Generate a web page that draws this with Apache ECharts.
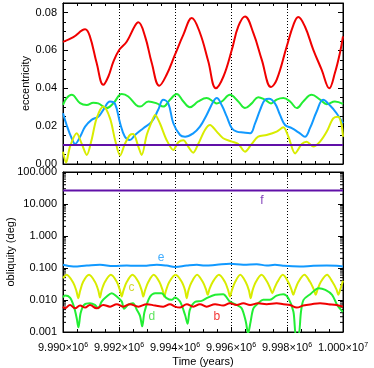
<!DOCTYPE html>
<html><head><meta charset="utf-8">
<script src="https://cdn.jsdelivr.net/npm/echarts@6/dist/echarts.min.js"></script>
<style>html,body{margin:0;padding:0;background:#fff}#c{width:374px;height:368px}</style>
</head><body><div id="c"></div>
<script>
// ---------- axis / tick data ----------
const T0 = 9990000;          // start of time axis (years)
const T1 = 10000000;         // end of time axis
const xTickMant = ['9.990','9.992','9.994','9.996','9.998','1.000'];
const xTickExp  = ['6','6','6','6','6','7'];
const eccTickLabels = ['0.00','0.02','0.04','0.06','0.08'];
const oblTickLabels = ['0.001','0.010','0.100','1.000','10.000','100.000'];
const oblMinorTicks = [0.002,0.003,0.004,0.005,0.006,0.007,0.008,0.009,
  0.02,0.03,0.04,0.05,0.06,0.07,0.08,0.09,
  0.2,0.3,0.4,0.5,0.6,0.7,0.8,0.9,
  2,3,4,5,6,7,8,9, 20,30,40,50,60,70,80,90];

// ---------- eccentricity (top panel), time offsets in years ----------
const eccRedT = [0,370,790,960,1200,1440,1620,1800,2010,2280,2570,2690,2930,3170,3440,3700,4000,4300,4600,4890,5190,5460,5730,6030,6260,6500,6800,7100,7430,7630,7990,8230,8400,8640,8940,9240,9510,9710,9890,10000];
const eccRedV = [.0645,.067,.0711,.0674,.0534,.0418,.0462,.054,.0603,.0647,.073,.0748,.0674,.0533,.0413,.0471,.0577,.0683,.0771,.0693,.0541,.040,.0462,.0603,.0726,.0779,.0691,.055,.0406,.0444,.062,.0735,.0776,.0726,.0603,.0497,.040,.048,.0586,.0674];

const eccGreenT = [0,130,310,610,850,1080,1260,1560,1800,2100,2330,2610,2750,3050,3350,3580,3820,4060,4300,4530,4830,5130,5370,5490,5670,5960,6260,6500,6740,6970,7210,7430,7630,7870,8110,8350,8580,8880,9180,9420,9710,10000];
const eccGreenV = [.0312,.0348,.0365,.0321,.0312,.0324,.032,.0295,.0321,.0369,.0356,.0312,.0303,.033,.032,.0303,.0339,.037,.033,.030,.033,.0348,.033,.032,.033,.0365,.033,.0295,.032,.0353,.034,.032,.034,.0348,.033,.0295,.033,.0365,.034,.0316,.033,.0317];

const eccBlueT = [0,130,310,430,610,790,1020,1260,1440,1680,1860,2040,2210,2390,2570,2870,3170,3400,3580,3760,3940,4180,4360,4650,4890,5130,5370,5490,5670,5850,6030,6210,6440,6680,6860,7040,7210,7360,7570,7750,7930,8170,8460,8640,8820,9060,9290,9530,9770,10000];
const eccBlueV = [.0268,.0206,.0136,.0106,.0144,.0197,.0233,.025,.0286,.033,.0317,.0215,.0144,.0127,.0153,.0189,.0224,.0286,.0339,.032,.0215,.0153,.0144,.0162,.0197,.0259,.033,.0348,.031,.025,.0189,.0171,.0166,.0162,.0215,.0286,.0339,.0345,.032,.0259,.0206,.0189,.0162,.0144,.0189,.0277,.0339,.031,.0268,.0215];

const eccYellowT = [0,110,250,490,670,850,1020,1200,1440,1680,1860,2040,2210,2390,2510,2690,2810,2990,3170,3290,3460,3700,3940,4120,4300,4470,4650,4830,5070,5250,5490,5720,6030,6260,6500,6740,6970,7270,7630,7870,8050,8290,8530,8700,8940,9180,9420,9650,9830,9950,10000];
const eccYellowV = [.0065,.0008,.0092,.0162,.0106,.0048,.0127,.0241,.0303,.0241,.0127,.0045,.0106,.0153,.0158,.0092,.0048,.0153,.0224,.0259,.0215,.0127,.0074,.0115,.0125,.0092,.006,.0106,.018,.0206,.0171,.0136,.0118,.0106,.0065,.0106,.0144,.0153,.0171,.0194,.0144,.0056,.0106,.0118,.0092,.0118,.0171,.0241,.025,.0206,.0144];

const eccPurpleT = [0,10000];
const eccPurpleV = [.0100,.0100];

// ---------- obliquity (bottom panel, deg) ----------
const oblPurpleT = [0,10000];
const oblPurpleV = [26.3,26.3];

const oblBlueT = [0,370,850,1320,1800,2280,2570,2870,3350,3700,4000,4420,4780,5070,5490,5960,6440,6920,7280,7570,7860,8460,8940,9420,9770,10000];
const oblBlueV = [.126,.111,.119,.126,.115,.119,.117,.117,.126,.119,.107,.119,.126,.119,.126,.135,.126,.132,.119,.126,.117,.111,.117,.119,.117,.111];

const oblYellowT = [0,130,370,480,546,610,720,930,1140,1260,1321,1380,1500,1710,1920,2035,2096,2160,2280,2480,2690,2810,2868,2930,3050,3240,3440,3560,3618,3680,3800,4020,4240,4360,4418,4480,4600,4790,4990,5110,5168,5230,5350,5570,5780,5900,5964,6030,6150,6330,6520,6640,6704,6770,6890,7090,7290,7410,7475,7540,7660,7850,8040,8160,8225,8290,8410,8620,8820,8960,9025,9090,9210,9430,9620,9770,9832,9900,10000];
const oblYellowV = [.048,.061,.034,.019,.0114,.019,.037,.061,.037,.02,.0119,.02,.037,.061,.037,.02,.0128,.02,.037,.061,.037,.02,.0128,.02,.037,.061,.037,.02,.0128,.02,.037,.061,.037,.02,.0114,.02,.037,.061,.037,.021,.0145,.022,.037,.061,.037,.02,.0128,.02,.037,.061,.037,.02,.0114,.02,.037,.061,.037,.022,.0163,.022,.037,.061,.037,.021,.0145,.021,.037,.061,.037,.021,.0145,.021,.037,.061,.037,.021,.0145,.021,.04];

const oblGreenT = [0,70,250,390,490,550,630,750,960,1140,1260,1380,1560,1740,1920,2100,2180,2320,2500,2640,2750,2830,2910,3110,3290,3520,3700,3880,4000,4180,4360,4450,4530,4710,4950,5130,5430,5720,5960,6200,6380,6530,6610,6700,6800,6970,7150,7390,7630,7870,8050,8230,8320,8410,8500,8590,8830,9130,9370,9610,9790,9970,10000];
const oblGreenV = [.0119,.0137,.0119,.0062,.0027,.0014,.0039,.0070,.0079,.0070,.0055,.0089,.0128,.0163,.0128,.0089,.0053,.0070,.0079,.0049,.0032,.0015,.0042,.0128,.0163,.0163,.0114,.0101,.0119,.0089,.0034,.0018,.0049,.0087,.0094,.0114,.0145,.0152,.0089,.0070,.0055,.0021,.0009,.0021,.0055,.0079,.0101,.0101,.0137,.0152,.0114,.0043,.0008,.0008,.0043,.0101,.0152,.0234,.0208,.0145,.0070,.0045,.0043];

const oblRedT = [0,70,250,430,610,790,960,1200,1440,1680,1920,2150,2390,2690,2990,3290,3580,3820,4000,4180,4420,4650,4890,5130,5430,5720,5960,6200,6440,6680,6970,7270,7630,7870,8110,8350,8580,8880,9180,9480,9770,10000];
const oblRedV = [.0062,.0055,.0070,.0055,.0067,.0058,.0070,.0055,.0070,.0062,.0074,.0062,.0074,.0062,.0074,.0067,.0062,.0074,.0062,.0058,.0074,.0062,.0074,.0062,.0074,.0067,.0079,.0070,.0079,.0070,.0079,.0074,.0079,.0074,.0070,.0058,.0067,.0074,.0079,.0074,.0070,.0062];

// curve labels in the obliquity panel
const curveNames  = ['b','c','d','e','f'];
const curveLabT   = [5490,2450,3170,3500,7100];
const curveLabV   = [0.00295,0.0239,0.00295,0.209,12.8];

// ---------- styling ----------
const FONT = 'Liberation Sans, Arial, Helvetica, sans-serif';
const COL = {red:'#f00000', green:'#22ee33', blue:'#1199ff', yellow:'#d8ec00', purple:'#6010a8'};
const labelColors = [COL.red, '#c8d000', '#33dd33', COL.blue, COL.purple];

function pairs(ts, vs){ return ts.map((t,i)=>[T0+t, vs[i]]); }

function xAx(grid, pos, labels, split){
  return {
    type:'value', gridIndex:grid, position:pos, min:T0, max:T1, interval:2000,
    axisLine:{show:true, onZero:false, lineStyle:{color:'#000', width:1}},
    axisTick:{show:true, inside:true, length:5, lineStyle:{color:'#000'}},
    minorTick:{show:true, splitNumber:4, length:3, lineStyle:{color:'#000'}},
    splitLine:{show:split, lineStyle:{color:'#000', width:1, type:[1,2]}},
    axisLabel:{show:labels, margin:10, color:'#000',
      formatter:function(v){ const i = Math.round((v-T0)/2000); return '{m|'+xTickMant[i]+'×10}{e|'+xTickExp[i]+'}'; },
      rich:{m:{fontSize:11, fontFamily:FONT, color:'#000', verticalAlign:'bottom'},
            e:{fontSize:7, fontFamily:FONT, color:'#000', verticalAlign:'top'}}},
    name: labels ? 'Time (years)' : '', nameLocation:'middle', nameGap:24, nameMoveOverlap:false,
    nameTextStyle:{fontSize:11, fontFamily:FONT, color:'#000'}
  };
}

const yEcc = (pos, labels) => ({
  type:'value', gridIndex:0, position:pos, min:0, max:0.085, interval:0.02,
  axisLine:{show:true, lineStyle:{color:'#000'}},
  axisTick:{show:true, inside:true, length:5, lineStyle:{color:'#000'}},
  minorTick:{show:true, splitNumber:4, length:3, lineStyle:{color:'#000'}},
  splitLine:{show:false},
  axisLabel:{show:labels, fontSize:11, fontFamily:FONT, color:'#000', margin:6,
    formatter:function(v){ const i = Math.round(v/0.02); return Math.abs(v-i*0.02)<1e-9 && eccTickLabels[i] ? eccTickLabels[i] : ''; }},
  name: labels ? 'eccentricity' : '', nameLocation:'middle', nameGap:32, nameMoveOverlap:false,
  nameTextStyle:{fontSize:11, fontFamily:FONT, color:'#000'}
});
const yObl = (pos, labels) => ({
  type:'log', logBase:10, gridIndex:1, position:pos, min:0.001, max:100,
  axisLine:{show:true, lineStyle:{color:'#000'}},
  axisTick:{show:true, inside:true, length:5, lineStyle:{color:'#000'}},
  splitLine:{show:false},
  axisLabel:{show:labels, fontSize:11, fontFamily:FONT, color:'#000', margin:6,
    formatter:function(v){ const i = Math.round(Math.log10(v))+3; return oblTickLabels[i] || ''; }},
  name: labels ? 'obliquity (deg)' : '', nameLocation:'middle', nameGap:47, nameMoveOverlap:false,
  nameTextStyle:{fontSize:11, fontFamily:FONT, color:'#000'}
});

function line(xi, yi, ts, vs, color, smooth){
  return {type:'line', xAxisIndex:xi, yAxisIndex:yi, data:pairs(ts, vs), showSymbol:false, symbol:'none',
    smooth:smooth, lineStyle:{color:color, width:2}, itemStyle:{color:color}, animation:false};
}

const chart = echarts.init(document.getElementById('c'), null, {renderer:'canvas'});
chart.setOption({
  animation:false,
  backgroundColor:'#fff',
  grid:[
    {left:63, top:3, width:280, height:161, show:true, borderColor:'#000', borderWidth:1, backgroundColor:'transparent', containLabel:false, outerBoundsMode:'none'},
    {left:63, top:172, width:280, height:160, show:true, borderColor:'#000', borderWidth:1, backgroundColor:'transparent', containLabel:false, outerBoundsMode:'none'}
  ],
  xAxis:[ xAx(0,'bottom',false,true), xAx(0,'top',false,false), xAx(1,'bottom',true,true), xAx(1,'top',false,false) ],
  yAxis:[ yEcc('left',true), yEcc('right',false), yObl('left',true), yObl('right',false) ],
  series:[
    line(0,0,eccRedT,eccRedV,COL.red,0.4),
    line(0,0,eccGreenT,eccGreenV,COL.green,0.4),
    line(0,0,eccBlueT,eccBlueV,COL.blue,0.4),
    line(0,0,eccYellowT,eccYellowV,COL.yellow,0.3),
    line(0,0,eccPurpleT,eccPurpleV,COL.purple,false),
    line(2,2,oblPurpleT,oblPurpleV,COL.purple,false),
    line(2,2,oblBlueT,oblBlueV,COL.blue,0.4),
    line(2,2,oblYellowT,oblYellowV,COL.yellow,0.3),
    line(2,2,oblGreenT,oblGreenV,COL.green,0.3),
    line(2,2,oblRedT,oblRedV,COL.red,0.4),
    {type:'custom', xAxisIndex:2, yAxisIndex:2, silent:true, clip:false, animation:false,
     data: oblMinorTicks.map(v=>[T0, v]),
     renderItem:function(params, api){
       const v = api.value(1);
       const pL = api.coord([T0, v]); const pR = api.coord([T1, v]);
       return {type:'group', children:[
         {type:'line', shape:{x1:pL[0], y1:pL[1], x2:pL[0]+3, y2:pL[1]}, style:{stroke:'#000', lineWidth:1}},
         {type:'line', shape:{x1:pR[0]-3, y1:pR[1], x2:pR[0], y2:pR[1]}, style:{stroke:'#000', lineWidth:1}}
       ]};
     }},
    {type:'scatter', xAxisIndex:2, yAxisIndex:2, silent:true, symbolSize:1, animation:false,
     itemStyle:{color:'rgba(0,0,0,0)'},
     data: curveNames.map((n,i)=>({value:[T0+curveLabT[i], curveLabV[i]],
       label:{show:true, position:'inside', formatter:n, color:labelColors[i], fontSize:12, fontFamily:FONT}}))}
  ]
});
</script></body></html>
